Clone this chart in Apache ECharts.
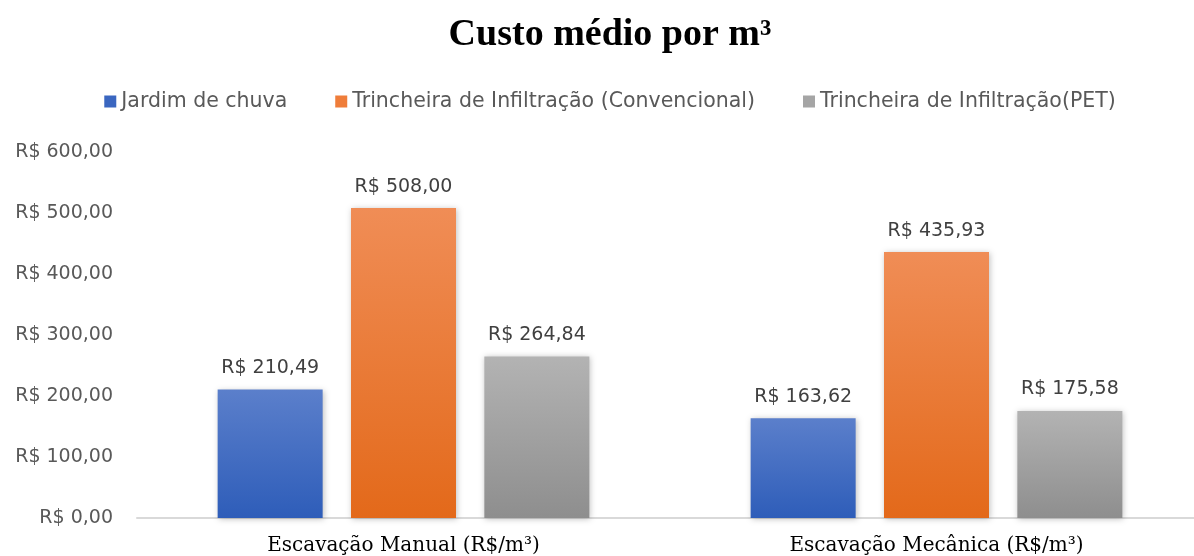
<!DOCTYPE html>
<html><head><meta charset="utf-8">
<script src="https://cdn.jsdelivr.net/npm/echarts@6/dist/echarts.min.js"></script>
<style>html,body{margin:0;padding:0;background:#fff;overflow:hidden}#c{width:1220px;height:556px}</style>
</head><body><div id="c"></div>
<script>
const categories = ["Escavação Manual (R$/m³)", "Escavação Mecânica (R$/m³)"];
const seriesNames = ["Jardim de chuva", "Trincheira de Infiltração (Convencional)", "Trincheira de Infiltração(PET)"];
const jardim = [210.49, 163.62];
const convencional = [508.00, 435.93];
const pet = [264.84, 175.58];
const yTicks = [0, 100, 200, 300, 400, 500, 600];

const fmt = v => "R$ " + v.toFixed(2).replace(".", ",");
const grad = (top, bot) => new echarts.graphic.LinearGradient(0,0,0,1,[{offset:0,color:top},{offset:1,color:bot}]);
const colors = [["#5b7fcb","#2e5db9"],["#f08d56","#e3691a"],["#b3b3b3","#8e8e8e"]];
const legendColors = ["#3a66c0","#ef7d3a","#a5a5a5"];
const data = [jardim, convencional, pet];

const chart = echarts.init(document.getElementById('c'));
chart.setOption({
  animation:false,
  title:{text:"Custo médio por m³",left:'center',top:11,textStyle:{fontFamily:"Liberation Serif",fontSize:38,fontWeight:'bold',color:'#000'}},
  legend:{top:86,left:'center',itemWidth:12,itemHeight:12,itemGap:48,icon:'rect',
    textStyle:{fontFamily:"DejaVu Sans",fontSize:20.5,color:'#595959'},
    data:seriesNames.map((n,i)=>({name:n,itemStyle:{color:legendColors[i]}}))},
  grid:{left:137,top:152,bottom:37,width:1066,containLabel:false},
  xAxis:{type:'category',data:categories,axisTick:{show:false},
    axisLine:{lineStyle:{color:'#d9d9d9',width:2}},
    axisLabel:{fontFamily:"DejaVu Serif",fontSize:20,color:'#000',margin:18}},
  yAxis:{type:'value',min:yTicks[0],max:yTicks[yTicks.length-1],interval:100,splitLine:{show:false},
    axisLabel:{fontFamily:"DejaVu Sans",fontSize:19,color:'#595959',margin:24,formatter:v=>fmt(v)}},
  series:data.map((d,i)=>({name:seriesNames[i],type:'bar',barWidth:105,barGap:'27%',
    data:d,
    itemStyle:{color:grad(colors[i][0],colors[i][1]),shadowColor:'rgba(0,0,0,0.25)',shadowBlur:6,shadowOffsetX:1,shadowOffsetY:1},
    label:{show:true,position:'top',distance:12,fontFamily:"DejaVu Sans",fontSize:19,color:'#404040',formatter:p=>fmt(p.value)}}))
});
</script></body></html>
